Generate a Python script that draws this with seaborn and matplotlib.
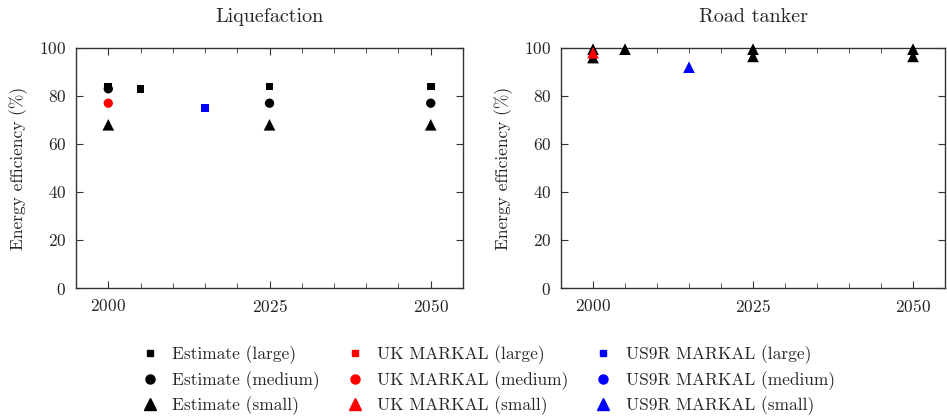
import pandas as pd
import matplotlib.pyplot as plt
from matplotlib.lines import Line2D
from matplotlib.ticker import MultipleLocator, FixedLocator
import seaborn as sns

# Liquefaction
liq_est_large_x = [2000, 2005, 2025, 2050]
liq_est_large_y = [84, 83, 84, 84]
liq_est_medium_x = [2000, 2025, 2050]
liq_est_medium_y = [83, 77, 77]
liq_est_small_x = [2000, 2025, 2050]
liq_est_small_y = [68, 68, 68]
liq_uk_medium_x = [2000]
liq_uk_medium_y = [77]
liq_us_large_x = [2015]
liq_us_large_y = [75]

# Road tanker
road_est_small_x = [2000, 2000, 2005, 2025, 2025, 2050, 2050]
road_est_small_y = [96, 99.5, 99.5, 96.5, 99.5, 96.5, 99.5]
road_uk_small_x = [2000]
road_uk_small_y = [98]
road_us_small_x = [2015]
road_us_small_y = [92]

sources = ["Estimate", "UK MARKAL", "US9R MARKAL"]
sizes = ["large", "medium", "small"]
colors = {"Estimate": "black", "UK MARKAL": "red", "US9R MARKAL": "blue"}
markers = {"large": "s", "medium": "o", "small": "^"}
msize = {"large": 30, "medium": 45, "small": 70}


def make_df(series):
    rows = []
    for src, size, xs, ys in series:
        for x, y in zip(xs, ys):
            rows.append({"year": x, "eff": y, "source": src, "size": size})
    return pd.DataFrame(rows)


liq = make_df([
    ("Estimate", "medium", liq_est_medium_x, liq_est_medium_y),
    ("Estimate", "large", liq_est_large_x, liq_est_large_y),
    ("Estimate", "small", liq_est_small_x, liq_est_small_y),
    ("UK MARKAL", "medium", liq_uk_medium_x, liq_uk_medium_y),
    ("US9R MARKAL", "large", liq_us_large_x, liq_us_large_y),
])
road = make_df([
    ("Estimate", "small", road_est_small_x, road_est_small_y),
    ("UK MARKAL", "small", road_uk_small_x, road_uk_small_y),
    ("US9R MARKAL", "small", road_us_small_x, road_us_small_y),
])

sns.set_style("ticks")
plt.rcParams["font.family"] = ["cmr10", "DejaVu Serif"]
plt.rcParams["axes.formatter.use_mathtext"] = True
plt.rcParams["mathtext.fontset"] = "cm"

fig = plt.figure(figsize=(9.47, 4.18), dpi=100)
ax1 = fig.add_axes([0.0803, 0.311, 0.4086, 0.5742])
ax2 = fig.add_axes([0.5924, 0.311, 0.4055, 0.5742])

for ax, df, title in [(ax1, liq, "Liquefaction"), (ax2, road, "Road tanker")]:
    for (src, size), g in df.groupby(["source", "size"], sort=False):
        sns.scatterplot(data=g, x="year", y="eff", color=colors[src], marker=markers[size],
                        s=msize[size], edgecolor="none", linewidth=0, ax=ax, legend=False,
                        zorder=3, clip_on=False)
    ax.set_xlim(1995, 2055)
    ax.set_ylim(0, 100)
    ax.xaxis.set_major_locator(FixedLocator([2000, 2025, 2050]))
    ax.xaxis.set_minor_locator(MultipleLocator(5))
    ax.yaxis.set_major_locator(MultipleLocator(20))
    ax.tick_params(which="both", direction="in", top=True, right=True, labelsize=12.5,
                   color="#333333", pad=7)
    ax.tick_params(which="major", length=5)
    ax.tick_params(which="minor", length=3.5)
    for sp in ax.spines.values():
        sp.set_color("#333333")
        sp.set_linewidth(1.0)
    ax.set_title(title, fontsize=14.5, pad=19)
    ax.set_xlabel("")
    ax.set_ylabel("Energy efficiency (%)", fontsize=12.5, labelpad=8)

handles = []
labels = []
for src in sources:
    for size in sizes:
        handles.append(Line2D([], [], linestyle="none", marker=markers[size], color=colors[src],
                              markersize={"large": 5, "medium": 6.5, "small": 8}[size]))
        labels.append(f"{src} ({size})")

fig.legend(handles, labels, ncol=3, loc="lower center", bbox_to_anchor=(0.513, -0.03),
           frameon=False, fontsize=12.5, columnspacing=1.25, handletextpad=0.55,
           labelspacing=0.38, handlelength=1.5)

fig.savefig("out.png", dpi=100)
